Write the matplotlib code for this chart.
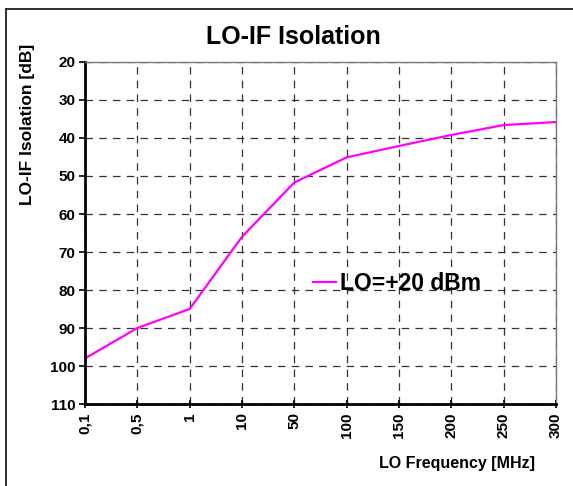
import matplotlib
matplotlib.use("Agg")
import matplotlib.pyplot as plt
from matplotlib.lines import Line2D

plt.rcParams['font.family'] = ['Liberation Sans', 'DejaVu Sans']
plt.rcParams['font.weight'] = 'bold'

# data
freq_labels = ['0,1', '0,5', '1', '10', '50', '100', '150', '200', '250', '300']
isolation = [98, 90, 85, 66, 51.7, 45.1, 42.1, 39.2, 36.6, 35.8]
series_name = 'LO=+20 dBm'
y_ticks = [20, 30, 40, 50, 60, 70, 80, 90, 100, 110]

fig = plt.figure(figsize=(5.73, 4.86), dpi=100)
ax = fig.add_axes([85 / 573, 82 / 486, 471 / 573, 342 / 486])

x = list(range(len(freq_labels)))
ax.plot(x, isolation, color='#ff00ff', lw=1.6, label=series_name)

ax.set_xlim(0, len(freq_labels) - 1)
ax.set_ylim(110, 20)
ax.set_xticks(x)
ax.set_xticklabels(freq_labels, rotation=90, fontsize=11, fontweight='bold')
ax.set_yticks(y_ticks)
ax.set_yticklabels([str(v) for v in y_ticks], fontsize=11, fontweight='bold')
ax.tick_params(axis='both', length=4, width=1.2, direction='out', pad=3)
ax.tick_params(axis='x', direction='inout', length=6)

ax.grid(True, color='#333333', linestyle=(0, (6, 5)), lw=0.9)
for s in ['left', 'bottom']:
    ax.spines[s].set_linewidth(2)
    ax.spines[s].set_color('black')
for s in ['top', 'right']:
    ax.spines[s].set_linewidth(1)
    ax.spines[s].set_color('#777777')

ax.legend(loc='center left', bbox_to_anchor=(0.484, 0.351), frameon=False,
          prop={'size': 16.5, 'weight': 'bold'}, handlelength=1.0,
          handletextpad=0.2, borderpad=0, borderaxespad=0)

fig.text(293 / 573, 1 - 37 / 486, 'LO-IF Isolation', ha='center', va='center',
         fontsize=18, fontweight='bold')
fig.text(28 / 573, 1 - 124 / 486, 'LO-IF Isolation [dB]', rotation=90,
         ha='center', va='center', fontsize=12.5, fontweight='bold')
fig.text(535 / 573, 1 - 463 / 486, 'LO Frequency [MHz]', ha='right',
         va='center', fontsize=11.5, fontweight='bold')

# outer chart frame (top and left visible in the reference)
fig.add_artist(Line2D([6 / 573, 6 / 573], [0, 1 - 9 / 486], color='#222222',
                      lw=1.3, transform=fig.transFigure))
fig.add_artist(Line2D([6 / 573, 1], [1 - 9 / 486, 1 - 9 / 486], color='#222222',
                      lw=1.3, transform=fig.transFigure))

fig.savefig('out.png', dpi=100)
